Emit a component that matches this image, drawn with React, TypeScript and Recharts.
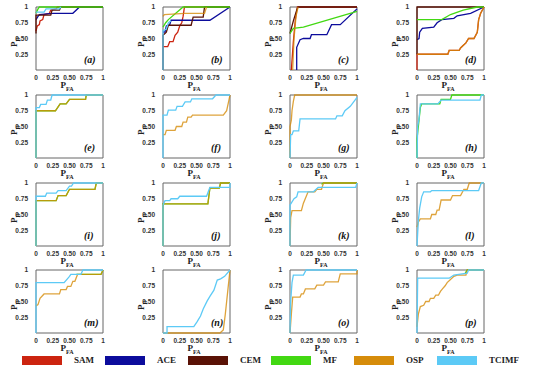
import React from 'react';
import { LineChart, Line, XAxis, YAxis, ReferenceArea } from 'recharts';

type Pt = [number, number];
type Panel = Partial<Record<string, Pt[]>>;

const seriesNames = ['SAM', 'ACE', 'CEM', 'MF', 'OSP', 'TCIMF'];
const seriesColors = ['#cc2410', '#0c0c9c', '#5a1206', '#42d812', '#d68c0a', '#5ccaf6'];
const xTicks = [0, 0.25, 0.5, 0.75, 1];
const yTicks = [0.25, 0.5, 0.75, 1];
const panelLetters = ['a', 'b', 'c', 'd', 'e', 'f', 'g', 'h', 'i', 'j', 'k', 'l', 'm', 'n', 'o', 'p'];

// ROC curves, (PFA, PD) corners
const panelA: Panel = {
  SAM: [[0, 0.62], [0.02, 0.7], [0.05, 0.72], [0.06, 0.78], [0.1, 0.8], [0.12, 0.88], [0.2, 0.9], [0.22, 0.95], [0.3, 0.97], [0.32, 1], [1, 1]],
  ACE: [[0, 0.8], [0.03, 0.85], [0.05, 0.88], [0.25, 0.9], [0.55, 0.9], [0.65, 1], [1, 1]],
  CEM: [[0, 0.58], [0, 0.87], [0.22, 0.87], [0.24, 0.95], [0.35, 0.95], [0.37, 1], [1, 1]],
  MF: [[0, 0.9], [0.03, 0.97], [0.05, 1], [1, 1]],
  TCIMF: [[0, 0.92], [0.12, 0.92], [0.15, 0.97], [0.35, 0.97], [0.37, 1]],
};
const panelB: Panel = {
  SAM: [[0, 0.37], [0.07, 0.37], [0.1, 0.45], [0.15, 0.45], [0.18, 0.55], [0.22, 0.6], [0.25, 0.7], [0.28, 0.75], [0.3, 0.85], [0.32, 1], [1, 1]],
  ACE: [[0, 0.6], [0.03, 0.6], [0.05, 0.7], [0.1, 0.72], [0.12, 0.79], [0.7, 0.79], [1, 1]],
  CEM: [[0, 0], [0, 0.55], [0.05, 0.6], [0.08, 0.71], [0.42, 0.71], [0.45, 0.84], [0.6, 0.84], [0.62, 1], [1, 1]],
  MF: [[0, 0.68], [0.04, 0.75], [0.08, 0.8], [0.3, 1], [1, 1]],
  OSP: [[0, 0.85], [0.02, 0.88], [0.32, 0.9], [0.62, 0.9], [0.65, 1]],
  TCIMF: [[0, 0], [0, 0.62], [0.05, 0.65], [0.08, 0.75], [0.12, 0.78]],
};
const panelC: Panel = {
  SAM: [[0.02, 0], [0.05, 0.45], [0.08, 0.8], [0.11, 1], [1, 1]],
  ACE: [[0.1, 0], [0.1, 0.36], [0.15, 0.48], [0.2, 0.5], [0.3, 0.5], [0.32, 0.56], [0.55, 0.56], [0.62, 0.72], [0.75, 0.72], [1, 0.97]],
  CEM: [[0, 0.58], [0.05, 0.78], [0.1, 0.95], [0.12, 1], [1, 1]],
  MF: [[0, 0.58], [0.05, 0.66], [0.2, 0.68], [1, 0.93]],
  OSP: [[0.04, 0], [0.06, 0.5], [0.09, 0.85], [0.12, 1]],
};
const panelD: Panel = {
  SAM: [[0, 0], [0, 0.25], [0.46, 0.25], [0.48, 0.31], [0.63, 0.31], [0.65, 0.35], [0.7, 0.4], [0.73, 0.43], [0.77, 0.5], [0.85, 0.5], [0.9, 0.6], [0.92, 0.8], [0.95, 0.9], [1, 1]],
  ACE: [[0, 0.48], [0.03, 0.5], [0.04, 0.6], [0.08, 0.66], [0.25, 0.68], [0.3, 0.75], [0.37, 0.8], [0.55, 0.82], [0.6, 0.86], [0.8, 0.9], [1, 1]],
  CEM: [[0, 0.25], [0, 1], [1, 1]],
  MF: [[0, 0.8], [0.37, 0.8], [0.5, 0.88], [0.69, 0.95], [0.9, 1], [1, 1]],
  OSP: [[0, 0.25], [0.46, 0.25], [0.48, 0.31], [0.63, 0.31], [0.65, 0.35], [0.7, 0.4], [0.73, 0.43], [0.77, 0.5], [0.85, 0.5], [0.9, 0.6], [0.92, 0.8], [0.95, 0.9], [1, 1]],
};
const panelE: Panel = {
  MF: [[0, 0], [0, 0.75], [0.29, 0.75], [0.36, 0.86], [0.45, 0.86], [0.5, 0.93], [0.74, 0.93], [0.75, 1], [1, 1]],
  OSP: [[0, 0], [0, 0.75], [0.29, 0.75], [0.36, 0.86], [0.45, 0.86], [0.5, 0.93], [0.74, 0.93], [0.75, 1], [1, 1]],
  TCIMF: [[0, 0], [0, 0.8], [0.05, 0.8], [0.07, 0.85], [0.15, 0.85], [0.17, 0.92], [0.22, 0.92], [0.24, 1], [1, 1]],
};
const panelF: Panel = {
  OSP: [[0, 0.37], [0.03, 0.37], [0.05, 0.44], [0.18, 0.44], [0.2, 0.5], [0.28, 0.5], [0.3, 0.57], [0.35, 0.57], [0.37, 0.65], [0.42, 0.65], [0.44, 0.68], [0.9, 0.68], [0.95, 0.75], [0.98, 0.9], [1, 1]],
  TCIMF: [[0, 0], [0, 0.68], [0.06, 0.68], [0.08, 0.76], [0.19, 0.76], [0.21, 0.82], [0.29, 0.82], [0.33, 0.89], [0.41, 0.89], [0.43, 0.94], [0.74, 0.94], [0.79, 1], [1, 1]],
};
const panelG: Panel = {
  OSP: [[0, 0], [0, 0.5], [0.02, 0.6], [0.03, 0.75], [0.05, 0.9], [0.07, 1], [1, 1]],
  TCIMF: [[0, 0], [0.01, 0.37], [0.03, 0.37], [0.05, 0.43], [0.13, 0.43], [0.15, 0.62], [0.68, 0.62], [0.7, 0.67], [0.78, 0.67], [0.82, 0.75], [0.9, 0.82], [0.97, 0.92], [1, 0.96]],
};
const panelH: Panel = {
  MF: [[0, 0], [0, 0.3], [0.03, 0.6], [0.05, 0.8], [0.07, 0.86], [0.34, 0.86], [0.36, 0.93], [0.5, 0.93], [0.52, 1], [1, 1]],
  TCIMF: [[0, 0], [0.01, 0.5], [0.03, 0.62], [0.05, 0.86], [0.31, 0.86], [0.36, 0.92], [0.94, 0.92], [0.96, 1], [1, 1]],
};
const panelI: Panel = {
  MF: [[0, 0], [0, 0.72], [0.3, 0.72], [0.33, 0.8], [0.45, 0.8], [0.5, 0.9], [0.88, 0.9], [0.9, 1], [1, 1]],
  OSP: [[0, 0], [0, 0.72], [0.3, 0.72], [0.33, 0.8], [0.45, 0.8], [0.5, 0.9], [0.88, 0.9], [0.9, 1], [1, 1]],
  TCIMF: [[0, 0], [0, 0.79], [0.14, 0.79], [0.16, 0.84], [0.3, 0.84], [0.33, 0.88], [0.45, 0.88], [0.5, 0.95], [0.53, 0.95], [0.56, 1], [1, 1]],
};
const panelJ: Panel = {
  MF: [[0, 0], [0, 0.67], [0.67, 0.67], [0.7, 0.92], [0.84, 0.92], [0.86, 1], [1, 1]],
  OSP: [[0, 0], [0, 0.67], [0.67, 0.67], [0.7, 0.92], [0.84, 0.92], [0.86, 1], [1, 1]],
  TCIMF: [[0, 0], [0, 0.65], [0.03, 0.72], [0.1, 0.72], [0.12, 0.75], [0.22, 0.75], [0.25, 0.79], [0.65, 0.79], [0.7, 0.93], [1, 0.93], [1, 1]],
};
const panelK: Panel = {
  MF: [[0.47, 0.98], [0.5, 1], [1, 1]],
  OSP: [[0, 0], [0.01, 0.45], [0.03, 0.56], [0.17, 0.56], [0.2, 0.68], [0.27, 0.86], [0.37, 0.86], [0.4, 0.9], [0.47, 0.9], [0.5, 1], [1, 1]],
  TCIMF: [[0, 0], [0, 0.65], [0.03, 0.7], [0.06, 0.75], [0.1, 0.78], [0.12, 0.86], [0.35, 0.86], [0.42, 0.93], [0.98, 0.93], [1, 1]],
};
const panelL: Panel = {
  OSP: [[0, 0.3], [0.02, 0.38], [0.05, 0.43], [0.2, 0.43], [0.22, 0.5], [0.28, 0.5], [0.3, 0.57], [0.33, 0.57], [0.36, 0.73], [0.5, 0.73], [0.53, 0.8], [0.65, 0.8], [0.7, 0.9], [0.75, 0.9], [0.78, 1], [1, 1]],
  TCIMF: [[0, 0], [0.02, 0.4], [0.04, 0.6], [0.07, 0.78], [0.1, 0.86], [0.2, 0.86], [0.22, 0.88], [0.92, 0.88], [0.96, 1], [1, 1]],
};
const panelM: Panel = {
  MF: [[0.6, 0.93], [0.97, 0.93], [1, 1]],
  OSP: [[0, 0.43], [0.03, 0.45], [0.06, 0.55], [0.12, 0.62], [0.35, 0.62], [0.37, 0.69], [0.45, 0.69], [0.47, 0.74], [0.52, 0.74], [0.55, 0.82], [0.58, 0.82], [0.62, 0.93], [0.97, 0.93], [1, 1]],
  TCIMF: [[0, 0], [0, 0.8], [0.42, 0.8], [0.5, 0.9], [0.52, 0.93], [0.67, 0.93], [0.7, 1], [1, 1]],
};
const panelN: Panel = {
  OSP: [[0, 0], [0.85, 0], [0.9, 0.05], [0.93, 0.3], [0.95, 0.5], [0.97, 0.7], [1, 1]],
  TCIMF: [[0, 0], [0.06, 0], [0.06, 0.1], [0.46, 0.1], [0.51, 0.18], [0.56, 0.27], [0.6, 0.38], [0.66, 0.51], [0.7, 0.58], [0.76, 0.68], [0.81, 0.84], [0.86, 0.86], [0.92, 0.9], [1, 1]],
};
const panelO: Panel = {
  OSP: [[0, 0], [0.02, 0.3], [0.04, 0.57], [0.15, 0.57], [0.17, 0.62], [0.2, 0.62], [0.23, 0.7], [0.37, 0.7], [0.4, 0.76], [0.5, 0.76], [0.53, 0.81], [0.72, 0.81], [0.75, 0.94], [1, 0.94], [1, 1]],
  TCIMF: [[0, 0], [0.01, 0.5], [0.03, 0.8], [0.05, 0.92], [0.2, 0.92], [0.24, 1], [1, 1]],
};
const panelP: Panel = {
  MF: [[0.72, 0.95], [0.75, 1], [1, 1]],
  OSP: [[0, 0.1], [0.02, 0.3], [0.05, 0.42], [0.1, 0.44], [0.13, 0.5], [0.18, 0.5], [0.2, 0.55], [0.25, 0.55], [0.28, 0.6], [0.32, 0.6], [0.35, 0.66], [0.38, 0.7], [0.42, 0.75], [0.45, 0.8], [0.5, 0.85], [0.55, 0.9], [0.6, 0.92], [0.73, 0.92], [0.75, 1], [1, 1]],
  TCIMF: [[0, 0], [0.01, 0.87], [0.48, 0.87], [0.55, 0.92], [0.75, 0.95], [0.77, 1], [1, 1]],
};

const panels = [panelA, panelB, panelC, panelD, panelE, panelF, panelG, panelH, panelI, panelJ, panelK, panelL, panelM, panelN, panelO, panelP];

const colLefts = [36, 163, 290, 417];
const rowTops = [7, 95, 183, 270];
const PLOT_W = 67;
const PLOT_H = 63;
const Y_AXIS_W = 30;
const TOP_M = 4;
const X_AXIS_H = 12;

const tickStyle = { fontSize: 6.5, fontWeight: 700, fill: '#333', fontFamily: 'Arial, "Liberation Sans", sans-serif' };
const fmt = (v: number) => (v === 0 ? '0' : v === 1 ? '1' : v.toFixed(2));

const RocPanel = ({ panel, index }: { panel: Panel; index: number }) => {
  const left = colLefts[index % 4];
  const top = rowTops[Math.floor(index / 4)];
  return (
    <>
      <div style={{ position: 'absolute', left: left - Y_AXIS_W, top: top - TOP_M }}>
        <LineChart
          width={Y_AXIS_W + PLOT_W + 6}
          height={TOP_M + PLOT_H + X_AXIS_H}
          margin={{ top: TOP_M, right: 6, left: 0, bottom: 0 }}
        >
          <XAxis
            type="number"
            dataKey="x"
            domain={[0, 1]}
            ticks={xTicks}
            tickFormatter={fmt}
            tick={tickStyle}
            tickLine={false}
            axisLine={false}
            tickMargin={-1}
            height={X_AXIS_H}
            interval={0}
          />
          <YAxis
            type="number"
            dataKey="y"
            domain={[0, 1]}
            ticks={yTicks}
            tickFormatter={fmt}
            tick={tickStyle}
            tickLine={false}
            axisLine={false}
            tickMargin={2}
            width={Y_AXIS_W}
            interval={0}
          />
          <ReferenceArea x1={0} x2={1} y1={0} y2={1} fill="#fff" fillOpacity={0} stroke="#666" strokeWidth={1} />
          {seriesNames.map((name, i) => {
            const pts = panel[name];
            if (!pts) return null;
            return (
              <Line
                key={name}
                data={pts.map(([x, y]) => ({ x, y }))}
                dataKey="y"
                type="linear"
                stroke={seriesColors[i]}
                strokeWidth={1.3}
                strokeOpacity={name === 'OSP' ? 0.8 : 1}
                dot={false}
                activeDot={false}
                isAnimationActive={false}
              />
            );
          })}
        </LineChart>
      </div>
      <div
        style={{
          position: 'absolute',
          left: left + PLOT_W - 19,
          top: top + PLOT_H - 16,
          font: 'italic 700 10px "Liberation Serif", "Times New Roman", serif',
          color: '#111',
        }}
      >
        ({panelLetters[index]})
      </div>
      <div
        style={{
          position: 'absolute',
          left: left - 30,
          top: top + PLOT_H / 2 - 5,
          width: 16,
          height: 10,
          transform: 'rotate(-90deg)',
          font: '700 9px "Liberation Serif", serif',
          color: '#222',
          lineHeight: '10px',
          whiteSpace: 'nowrap',
        }}
      >
        P<span style={{ fontSize: 6, verticalAlign: 'sub' }}>D</span>
      </div>
      <div
        style={{
          position: 'absolute',
          left: left + PLOT_W / 2 - 9,
          top: top + PLOT_H + 11,
          font: '700 9px "Liberation Serif", serif',
          color: '#222',
          lineHeight: '9px',
          whiteSpace: 'nowrap',
        }}
      >
        P<span style={{ fontSize: 6, verticalAlign: 'sub' }}>FA</span>
      </div>
    </>
  );
};

export default function App() {
  return (
    <div style={{ position: 'absolute', left: 0, top: 0, width: 550, height: 376, background: '#fff', overflow: 'hidden' }}>
      {panels.map((p, i) => (
        <RocPanel key={i} panel={p} index={i} />
      ))}
      <div style={{ position: 'absolute', left: 22, top: 356, display: 'flex' }}>
        {seriesNames.map((name, i) => (
          <div key={name} style={{ width: 83, display: 'flex', alignItems: 'center' }}>
            <div style={{ width: 40, height: 9, background: seriesColors[i] }} />
            <span
              style={{
                marginLeft: 12,
                font: '700 9px "Liberation Serif", "Times New Roman", serif',
                color: '#222',
                lineHeight: '9px',
              }}
            >
              {name}
            </span>
          </div>
        ))}
      </div>
    </div>
  );
}
